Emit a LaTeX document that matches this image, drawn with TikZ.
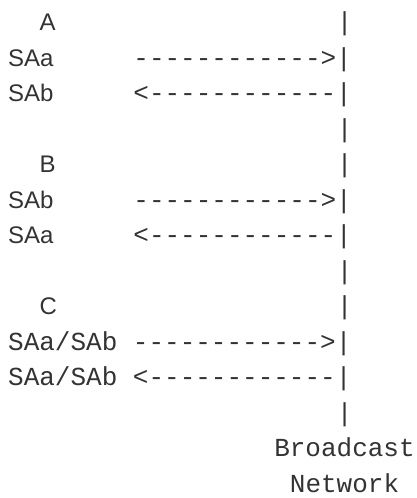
\documentclass[tikz,border=0pt]{standalone}
\usepackage{fontspec}
\setmainfont{Liberation Sans}
\setmonofont{Liberation Mono}
\definecolor{ink}{HTML}{333333}
\begin{document}
\begin{tikzpicture}[x=1pt,y=1pt,
  mono/.style={font=\ttfamily\fontsize{26}{26}\selectfont, inner sep=0pt, anchor=base west, text=ink},
  prop/.style={font=\fontsize{24}{24}\selectfont, inner sep=0pt, anchor=base west, text=ink}]
\useasboundingbox (0,0) rectangle (416,-498);
% line 1
\node[prop] (A) at (39.3,-30.7) {A};
\node[mono] (p1) at (336.65,-30.7) {|};
% line 2
\node[prop] (sa1) at (8,-66.2) {SAa};
\node[mono] (r1) at (133.2,-66.2) {------------>|};
% line 3
\node[prop] (sb1) at (8,-101.7) {SAb};
\node[mono] (l1) at (133.2,-101.7) {<------------|};
% line 4
\node[mono] (p2) at (336.65,-137.2) {|};
% line 5
\node[prop] (B) at (39.3,-172.7) {B};
\node[mono] (p3) at (336.65,-172.7) {|};
% line 6
\node[prop] (sb2) at (8,-208.2) {SAb};
\node[mono] (r2) at (133.2,-208.2) {------------>|};
% line 7
\node[prop] (sa2) at (8,-243.7) {SAa};
\node[mono] (l2) at (133.2,-243.7) {<------------|};
% line 8
\node[mono] (p4) at (336.65,-279.2) {|};
% line 9
\node[prop] (C) at (39.3,-314.7) {C};
\node[mono] (p5) at (336.65,-314.7) {|};
% line 10
\node[mono] (r3) at (8,-350.2) {SAa/SAb ------------>|};
% line 11
\node[mono] (l3) at (8,-385.7) {SAa/SAb <------------|};
% line 12
\node[mono] (p6) at (336.65,-421.2) {|};
% line 13-14
\node[mono] (bc) at (274.05,-456.7) {Broadcast};
\node[mono] (nw) at (289.7,-492.2) {Network};
\end{tikzpicture}
\end{document}
